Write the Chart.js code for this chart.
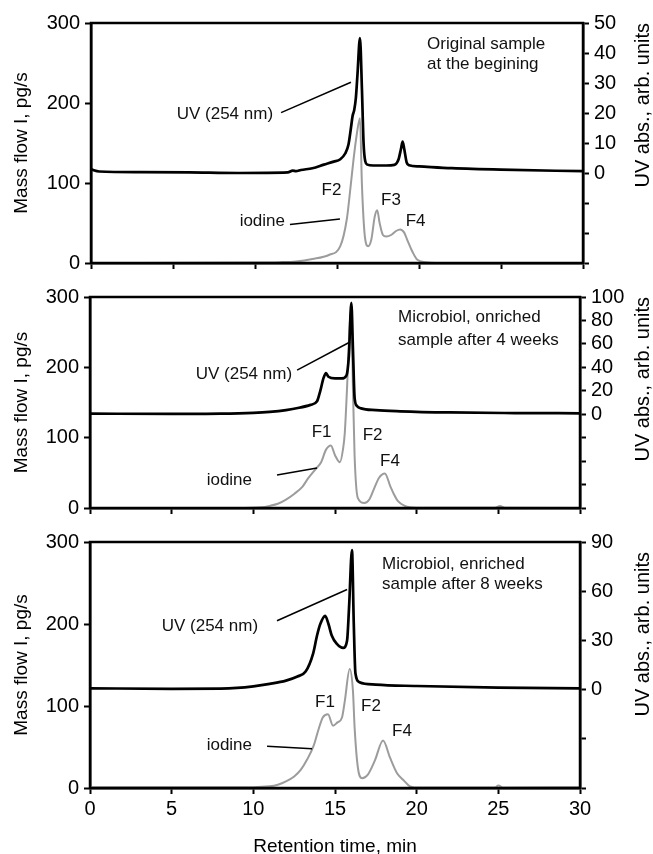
<!DOCTYPE html>
<html>
<head>
<meta charset="utf-8">
<script src="https://cdn.jsdelivr.net/npm/chart.js@4.4.1/dist/chart.umd.min.js"></script>
<style>
  html, body { margin: 0; padding: 0; background: #fff; }
  #wrap { position: relative; width: 653px; height: 854px; overflow: hidden; background: #fff; }
  #wrap canvas { position: absolute; left: 0; }
</style>
</head>
<body>
<div id="wrap">
  <canvas id="p1" width="653" height="280" style="top:0px"></canvas>
  <canvas id="p2" width="653" height="245" style="top:280px"></canvas>
  <canvas id="p3" width="653" height="329" style="top:525px"></canvas>
</div>
<script>
// ---- Tick values ----
const timeTicks = [0, 5, 10, 15, 20, 25, 30];
const massTicks = [0, 100, 200, 300];
const uvTicks1 = [-30, -20, -10, 0, 10, 20, 30, 40, 50];
const uvTicks2 = [-80, -60, -40, -20, 0, 20, 40, 60, 80, 100];
const uvTicks3 = [-60, -30, 0, 30, 60, 90];

// ---- Panel 1: original sample ----
const timeUv1 = [0, 0.5, 3, 6, 9, 12, 12.3, 12.5, 12.8, 13.5, 14.2, 14.8, 15.2, 15.5, 15.7, 15.85, 15.95, 16.05, 16.15, 16.25, 16.4, 16.52, 16.62, 16.72, 16.85, 17.2, 18, 18.5, 18.75, 18.9, 19.0, 19.1, 19.25, 19.4, 20, 22, 25, 30];
const uv1 = [1.2, 0.5, 0.3, 0.2, 0, 0.2, 0.8, 0.6, 1, 1.6, 2.8, 3.8, 4.6, 6.5, 9.5, 15, 19, 21, 25, 33, 45, 28, 10, 4, 2.8, 2.5, 2.5, 2.7, 4.5, 8, 10.5, 8, 3.5, 2.6, 2.2, 1.6, 1.1, 0.6];
const timeI1 = [0, 10, 11.5, 12.5, 13.5, 14.5, 15.2, 15.6, 15.8, 16.0, 16.2, 16.4, 16.52, 16.7, 16.9, 17.1, 17.3, 17.45, 17.6, 17.8, 18.0, 18.3, 18.6, 18.85, 19.1, 19.3, 19.6, 19.9, 20.4, 21, 30];
const iodine1 = [0, 0.5, 1, 2, 5, 10, 21, 55, 90, 128, 160, 181, 98, 33, 21, 30, 58, 66, 50, 35, 33, 35, 40, 42, 38, 28, 14, 4, 1, 0, 0];

// ---- Panel 2: after 4 weeks ----
const timeUv2 = [0, 5, 8, 10, 11, 12, 12.8, 13.5, 13.9, 14.1, 14.3, 14.45, 14.6, 15, 15.4, 15.7, 15.85, 16.0, 16.1, 16.2, 16.35, 16.6, 17.5, 19, 22, 26, 30];
const uv2 = [0.5, 0.3, 0.5, 1.2, 2, 3.5, 5.5, 8, 11, 20, 31, 35, 32, 30.5, 30.5, 33, 50, 95, 55, 14, 7, 5, 3.5, 2.5, 1.5, 1, 0.8];
const timeI2 = [0, 9, 10.5, 11, 11.5, 12, 12.5, 13, 13.35, 13.8, 14.15, 14.45, 14.75, 15.0, 15.3, 15.5, 15.6, 15.73, 15.9, 15.97, 16.05, 16.1, 16.2, 16.4, 16.8, 17.1, 17.4, 17.7, 18.05, 18.4, 18.6, 18.84, 19.27, 20, 24.8, 25.1, 25.4, 30];
const iodine2 = [0, 0, 1, 3, 6, 12, 20, 30, 42, 55, 65, 83, 89, 75, 65, 85, 107, 167, 260, 280, 230, 167, 74, 14, 7, 12, 28, 43, 49, 30, 20, 10, 3, 0.5, 0.5, 3, 0.5, 0];

// ---- Panel 3: after 8 weeks ----
const timeUv3 = [0, 5, 8, 9, 10, 11, 12, 12.7, 13.2, 13.66, 13.9, 14.1, 14.4, 14.6, 14.8, 15.1, 15.5, 15.74, 15.86, 16.04, 16.15, 16.25, 16.5, 17.5, 20, 25, 30];
const uv3 = [0.8, 0.5, 0.6, 1, 2, 3.5, 5.5, 8, 11, 22, 33, 40, 45, 40, 33, 28, 25.4, 30, 50, 85, 40, 10, 4.5, 3, 2.2, 1.2, 0.8];
const timeI3 = [0, 5, 10, 11, 11.5, 12, 12.5, 12.9, 13.3, 13.7, 14.0, 14.25, 14.57, 14.88, 15.15, 15.43, 15.6, 15.9, 16.1, 16.2, 16.4, 16.66, 17.0, 17.45, 17.94, 18.37, 18.8, 19.17, 19.6, 20.2, 24.8, 25.0, 25.3, 30];
const iodine3 = [1, 1, 1, 2, 4, 8, 14, 22, 35, 52, 72, 86, 90, 76, 80, 86, 106, 145, 118, 74, 25, 12, 16, 34, 58, 37, 18, 10, 2, 0.5, 0.5, 3, 0.5, 1];

const FONT = '"Liberation Sans", Arial, Helvetica, sans-serif';
const massTitle = 'Mass flow I, pg/s';
const uvTitle = 'UV abs., arb. units';
const timeTitle = 'Retention time, min';

function pairs(xs, ys) { return xs.map((x, i) => ({ x: x, y: ys[i] })); }

// Frame, axis titles and in-plot annotations
const decorPlugin = {
  id: 'panelDecor',
  afterDraw(chart, args, o) {
    const { ctx, chartArea: a, scales } = chart;
    const sx = scales.x, sy = scales.y;
    ctx.save();
    ctx.strokeStyle = '#000';
    ctx.lineWidth = 2.5;
    ctx.strokeRect(a.left, a.top, a.right - a.left, a.bottom - a.top);

    ctx.fillStyle = '#000';
    ctx.textBaseline = 'alphabetic';
    ctx.font = '19px ' + FONT;
    ctx.textAlign = 'center';
    ctx.save();
    ctx.translate(27, (a.top + a.bottom) / 2);
    ctx.rotate(-Math.PI / 2);
    ctx.fillText(massTitle, 0, 0);
    ctx.restore();

    ctx.font = '20px ' + FONT;
    ctx.textAlign = 'right';
    ctx.save();
    ctx.translate(649, a.top + o.uvTitleShift);
    ctx.rotate(-Math.PI / 2);
    ctx.fillText(uvTitle, 0, 0);
    ctx.restore();

    if (o.showTimeTitle) {
      ctx.font = '19px ' + FONT;
      ctx.textAlign = 'center';
      ctx.fillText(timeTitle, (a.left + a.right) / 2, chart.height - 2);
    }

    ctx.lineWidth = 1.5;
    o.leaders.forEach(l => {
      ctx.beginPath();
      ctx.moveTo(sx.getPixelForValue(l[0]), sy.getPixelForValue(l[1]));
      ctx.lineTo(sx.getPixelForValue(l[2]), sy.getPixelForValue(l[3]));
      ctx.stroke();
    });

    ctx.fillStyle = '#111';
    ctx.font = '17px ' + FONT;
    ctx.textBaseline = 'middle';
    o.labels.forEach(l => {
      ctx.textAlign = l.align;
      ctx.fillText(l.text, sx.getPixelForValue(l.t), sy.getPixelForValue(l.v));
    });
    ctx.restore();
  }
};

function makePanel(id, p) {
  const tickFont = { family: FONT, size: 20 };
  const gridOpts = { drawOnChartArea: false, drawTicks: true, tickLength: 6, tickWidth: 2, tickColor: '#000' };
  const borderOpts = { display: true, color: '#000', width: 2.5 };
  return new Chart(document.getElementById(id), {
    type: 'line',
    data: {
      datasets: [
        {
          label: 'UV (254 nm)', data: pairs(p.tUv, p.uv), yAxisID: 'y2',
          borderColor: '#000', borderWidth: 2.7, pointRadius: 0,
          cubicInterpolationMode: 'monotone', borderJoinStyle: 'round'
        },
        {
          label: 'iodine', data: pairs(p.tI, p.iod), yAxisID: 'y',
          borderColor: '#9c9c9c', borderWidth: 2, pointRadius: 0,
          cubicInterpolationMode: 'monotone', borderJoinStyle: 'round'
        }
      ]
    },
    options: {
      responsive: false,
      animation: false,
      devicePixelRatio: 1,
      layout: { padding: { top: p.padTop, left: 0, right: 0, bottom: 0 } },
      plugins: {
        legend: { display: false },
        tooltip: { enabled: false },
        panelDecor: {
          uvTitleShift: p.uvTitleShift, showTimeTitle: p.showTime,
          labels: p.labels, leaders: p.leaders
        }
      },
      scales: {
        x: {
          type: 'linear', min: 0, max: 30,
          afterBuildTicks: s => { s.ticks = timeTicks.map(v => ({ value: v })); },
          afterFit: s => { s.height = p.xHeight; },
          grid: gridOpts, border: borderOpts,
          ticks: {
            color: '#000', font: tickFont, padding: 3, maxRotation: 0, autoSkip: false,
            callback: v => p.showTime ? String(v) : ''
          }
        },
        y: {
          type: 'linear', position: 'left', min: 0, max: 300,
          afterBuildTicks: s => { s.ticks = massTicks.map(v => ({ value: v })); },
          afterFit: s => { s.width = p.leftW; },
          grid: gridOpts, border: borderOpts,
          ticks: { color: '#000', font: tickFont, padding: 5, autoSkip: false }
        },
        y2: {
          type: 'linear', position: 'right', min: p.uvTicks[0], max: p.uvTicks[p.uvTicks.length - 1],
          afterBuildTicks: s => { s.ticks = p.uvTicks.map(v => ({ value: v })); },
          afterFit: s => { s.width = p.rightW; },
          grid: gridOpts, border: borderOpts,
          ticks: { color: '#000', font: tickFont, padding: 5, autoSkip: false, callback: v => v >= 0 ? String(v) : '' }
        }
      }
    },
    plugins: [decorPlugin]
  });
}

makePanel('p1', {
  tUv: timeUv1, uv: uv1, tI: timeI1, iod: iodine1, uvTicks: uvTicks1,
  padTop: 23, xHeight: 13, leftW: 91, rightW: 70, uvTitleShift: 0, showTime: false,
  labels: [
    { text: 'UV (254 nm)', t: 11.1, v: 186, align: 'right' },
    { text: 'F2', t: 14.66, v: 91, align: 'center' },
    { text: 'iodine', t: 11.83, v: 51.6, align: 'right' },
    { text: 'F3', t: 18.29, v: 78.7, align: 'center' },
    { text: 'F4', t: 19.79, v: 51.6, align: 'center' },
    { text: 'Original sample', t: 20.49, v: 273, align: 'left' },
    { text: 'at the begining', t: 20.49, v: 248, align: 'left' }
  ],
  leaders: [[11.59, 188, 15.85, 226], [12.13, 48, 15.18, 55]]
});

makePanel('p2', {
  tUv: timeUv2, uv: uv2, tI: timeI2, iod: iodine2, uvTicks: uvTicks2,
  padTop: 14, xHeight: 15, leftW: 90, rightW: 73, uvTitleShift: 0, showTime: false,
  labels: [
    { text: 'UV (254 nm)', t: 12.37, v: 190, align: 'right' },
    { text: 'F1', t: 14.18, v: 108, align: 'center' },
    { text: 'F2', t: 17.3, v: 104, align: 'center' },
    { text: 'F4', t: 18.37, v: 67, align: 'center' },
    { text: 'iodine', t: 9.92, v: 40, align: 'right' },
    { text: 'Microbiol, onriched', t: 18.86, v: 271, align: 'left' },
    { text: 'sample after 4 weeks', t: 18.86, v: 239, align: 'left' }
  ],
  leaders: [[12.68, 196, 15.92, 236], [11.45, 47, 13.9, 57]]
});

makePanel('p3', {
  tUv: timeUv3, uv: uv3, tI: timeI3, iod: iodine3, uvTicks: uvTicks3,
  padTop: 15, xHeight: 66, leftW: 90, rightW: 73, uvTitleShift: 10, showTime: true,
  labels: [
    { text: 'UV (254 nm)', t: 10.29, v: 197, align: 'right' },
    { text: 'F1', t: 14.39, v: 104, align: 'center' },
    { text: 'F2', t: 17.2, v: 100, align: 'center' },
    { text: 'F4', t: 19.1, v: 69, align: 'center' },
    { text: 'iodine', t: 9.92, v: 52, align: 'right' },
    { text: 'Microbiol, enriched', t: 17.88, v: 273, align: 'left' },
    { text: 'sample after 8 weeks', t: 17.88, v: 248, align: 'left' }
  ],
  leaders: [[11.45, 204, 15.74, 242], [10.84, 51, 13.6, 48]]
});
</script>
</body>
</html>
